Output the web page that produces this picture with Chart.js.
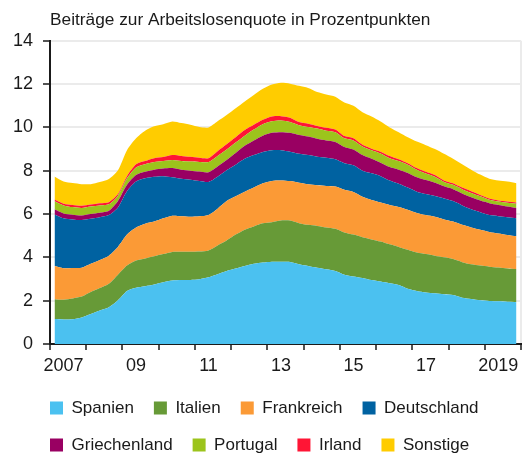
<!DOCTYPE html>
<html><head><meta charset="utf-8">
<script src="https://cdn.jsdelivr.net/npm/chart.js@4.4.1/dist/chart.umd.min.js"></script>
<style>html,body{margin:0;padding:0;background:#fff}</style>
</head><body>
<canvas id="c" width="528" height="455"></canvas>
<script>
const chartTitle = 'Beiträge zur Arbeitslosenquote in Prozentpunkten';
const years = [2007,2008,2009,2010,2011,2012,2013,2014,2015,2016,2017,2018,2019];
const quarterNames = ['Q1','Q2','Q3','Q4'];
const categories = years.flatMap(y => quarterNames.map(q => y + q));
const tickAt = ['2007Q2','2009Q2','2011Q2','2013Q2','2015Q2','2017Q2','2019Q2'];
const tickText = ['2007','09','11','13','15','17','2019'];

const spanien = [1.15,1.13,1.14,1.22,1.38,1.55,1.70,2.02,2.45,2.60,2.67,2.75,2.85,2.93,2.95,2.96,2.99,3.08,3.22,3.37,3.48,3.60,3.70,3.76,3.80,3.80,3.79,3.68,3.60,3.52,3.45,3.37,3.20,3.12,3.05,2.95,2.88,2.80,2.72,2.55,2.45,2.38,2.34,2.30,2.26,2.14,2.08,2.02,1.99,1.97,1.95,1.93];
const italien = [0.92,0.91,0.96,0.97,1.02,1.03,1.08,1.18,1.17,1.25,1.28,1.30,1.30,1.32,1.31,1.30,1.28,1.24,1.33,1.41,1.57,1.68,1.73,1.81,1.82,1.90,1.91,1.90,1.90,1.93,1.93,1.95,1.95,1.93,1.88,1.88,1.85,1.80,1.76,1.80,1.77,1.77,1.74,1.70,1.66,1.64,1.60,1.60,1.58,1.56,1.54,1.53];
const frankreich = [1.53,1.46,1.41,1.33,1.30,1.30,1.30,1.28,1.43,1.53,1.60,1.60,1.65,1.67,1.64,1.62,1.63,1.64,1.70,1.82,1.77,1.75,1.79,1.85,1.91,1.85,1.82,1.87,1.88,1.88,1.92,1.95,1.97,1.97,1.87,1.82,1.80,1.82,1.85,1.85,1.83,1.80,1.79,1.75,1.73,1.72,1.70,1.65,1.60,1.57,1.54,1.51];
const deutschland = [2.38,2.30,2.24,2.20,2.08,1.97,1.87,1.82,2.00,2.12,2.10,2.07,1.95,1.78,1.73,1.70,1.62,1.52,1.47,1.42,1.46,1.52,1.50,1.45,1.42,1.40,1.36,1.33,1.34,1.32,1.30,1.26,1.23,1.23,1.20,1.23,1.22,1.13,1.07,1.02,0.98,0.97,0.96,0.97,0.95,0.90,0.84,0.81,0.78,0.80,0.82,0.83];
const griechenland = [0.24,0.23,0.22,0.21,0.22,0.21,0.20,0.30,0.30,0.30,0.30,0.33,0.35,0.42,0.42,0.42,0.44,0.45,0.48,0.48,0.54,0.60,0.68,0.75,0.80,0.83,0.87,0.87,0.86,0.83,0.80,0.80,0.75,0.73,0.72,0.67,0.62,0.62,0.65,0.68,0.67,0.65,0.62,0.56,0.55,0.55,0.55,0.54,0.55,0.52,0.50,0.48];
const portugal = [0.37,0.37,0.35,0.35,0.35,0.34,0.30,0.25,0.30,0.35,0.35,0.35,0.35,0.38,0.40,0.42,0.44,0.47,0.48,0.48,0.48,0.47,0.50,0.53,0.53,0.54,0.50,0.45,0.44,0.47,0.45,0.45,0.40,0.42,0.40,0.40,0.43,0.41,0.40,0.38,0.35,0.30,0.27,0.20,0.20,0.20,0.20,0.20,0.16,0.16,0.17,0.19];
const irland = [0.08,0.08,0.10,0.10,0.09,0.10,0.10,0.07,0.10,0.15,0.15,0.18,0.18,0.22,0.23,0.22,0.20,0.18,0.22,0.24,0.25,0.26,0.22,0.20,0.22,0.20,0.20,0.15,0.15,0.12,0.13,0.12,0.10,0.10,0.08,0.07,0.08,0.10,0.08,0.07,0.07,0.08,0.08,0.07,0.07,0.07,0.08,0.06,0.06,0.05,0.06,0.06];
const sonstige = [1.06,1.02,1.01,1.00,0.94,0.98,1.07,1.10,1.20,1.20,1.40,1.47,1.52,1.55,1.52,1.48,1.42,1.42,1.38,1.35,1.33,1.32,1.38,1.43,1.48,1.54,1.57,1.67,1.65,1.56,1.54,1.52,1.55,1.50,1.50,1.48,1.39,1.32,1.25,1.20,1.23,1.23,1.20,1.23,1.13,1.08,1.00,0.94,0.91,0.92,0.92,0.89];

const seriesNames = ['Spanien','Italien','Frankreich','Deutschland','Griechenland','Portugal','Irland','Sonstige'];
const seriesValues = [spanien, italien, frankreich, deutschland, griechenland, portugal, irland, sonstige];
const seriesColors = ['#4BC1F0','#679A37','#FB9A36','#0062A1','#990062','#9CC41C','#FF1535','#FFCC00'];

const FONT = "'Liberation Sans', Arial, sans-serif";
const TXT = '#1a1a1a';

const datasets = seriesNames.map((name, k) => ({
  label: name,
  data: seriesValues[k],
  backgroundColor: seriesColors[k],
  borderColor: seriesColors[k],
  borderWidth: 0,
  pointRadius: 0,
  pointHoverRadius: 0,
  tension: 0.25,
  fill: k === 0 ? 'origin' : '-1'
}));

// align the legend's first column with the plot's left edge
const legendShift = {
  id: 'legendShift',
  afterLayout(chart) {
    const lg = chart.legend;
    if (lg) { const d = chart.chartArea.left - 20 - lg.left; lg.left += d; lg.right += d; }
  }
};

new Chart(document.getElementById('c'), {
  type: 'line',
  data: { labels: categories, datasets },
  plugins: [legendShift],
  options: {
    responsive: false,
    animation: false,
    events: [],
    layout: { padding: { left: 13, right: 7, top: 0, bottom: -8.6 } },
    plugins: {
      title: { display: true, text: chartTitle, align: 'start', fullSize: false, color: TXT,
               font: { family: FONT, size: 17.3, weight: 'normal' }, padding: { top: 10, bottom: 10 } },
      legend: { position: 'bottom', align: 'start',
                labels: { boxWidth: 13, boxHeight: 13, padding: 20, color: TXT, font: { family: FONT, size: 17 } } },
      tooltip: { enabled: false }
    },
    scales: {
      x: {
        type: 'category', offset: true,
        grid: {
          offset: true, drawOnChartArea: true, lineWidth: 2, tickLength: 6, tickWidth: 1.5,
          color: c => c.tick === undefined ? '#ebebeb' : 'transparent',
          tickColor: c => (c.tick === undefined || c.index % 4 === 0) ? TXT : 'transparent'
        },
        border: { color: TXT, width: 2 },
        ticks: {
          autoSkip: false, maxRotation: 0, minRotation: 0, padding: 5, color: TXT,
          font: { family: FONT, size: 18 },
          callback: function (v) { const k = tickAt.indexOf(this.getLabelForValue(v)); return k >= 0 ? tickText[k] : ''; }
        },
        afterFit: s => { s.height -= 2; }
      },
      y: {
        stacked: true, min: 0, max: 14,
        ticks: { stepSize: 2, padding: 10, color: TXT, font: { family: FONT, size: 18 } },
        grid: { color: '#ebebeb', lineWidth: 2, tickLength: 7, tickColor: TXT, tickWidth: 1.5 },
        border: { color: TXT, width: 2 },
        afterFit: s => { s.width = 37; }
      }
    }
  }
});
</script>
</body></html>
